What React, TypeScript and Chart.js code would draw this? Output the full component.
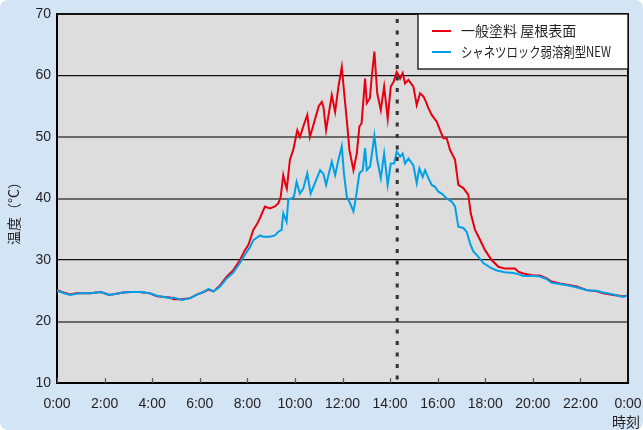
import React, { useEffect, useRef } from "react";
import { Chart, registerables } from "chart.js";

Chart.register(...registerables);

// ---- data ----
const redLabel = "一般塗料 屋根表面";
const blueLabel = "シャネツロック弱溶剤型NEW";

const redHours = [
  0, 0.3, 0.56, 0.8, 1.0, 1.4, 1.82, 2.0, 2.2, 2.5, 2.78, 3.1, 3.48, 3.9, 4.2, 4.5, 4.76, 4.9, 5.25, 5.6,
  5.9, 6.16, 6.37, 6.58, 6.86, 7.13, 7.4, 7.69, 7.9, 8.05, 8.25, 8.4, 8.53, 8.74, 8.95, 9.16, 9.3, 9.4,
  9.51, 9.61, 9.66, 9.79, 9.93, 10.1, 10.21, 10.35, 10.52, 10.63, 10.84, 11.0, 11.13, 11.2, 11.31, 11.55,
  11.69, 11.83, 11.97, 12.06, 12.18, 12.29, 12.46, 12.6, 12.71, 12.8, 12.95, 13.02, 13.15, 13.23, 13.34,
  13.46, 13.61, 13.75, 13.9, 14.03, 14.15, 14.28, 14.42, 14.53, 14.63, 14.77, 14.98, 15.12, 15.26, 15.4,
  15.51, 15.61, 15.75, 15.96, 16.1, 16.24, 16.38, 16.52, 16.73, 16.87, 17.08, 17.29, 17.39, 17.57, 17.78,
  17.99, 18.27, 18.55, 18.83, 19.11, 19.25, 19.39, 19.6, 20.02, 20.3, 20.58, 20.79, 21.14, 21.56, 21.85,
  22.27, 22.69, 22.96, 23.38, 23.8, 24.0,
];
const redTemps = [
  25.1, 24.7, 24.4, 24.6, 24.6, 24.6, 24.8, 24.6, 24.3, 24.5, 24.7, 24.8, 24.8, 24.6, 24.1, 24.0, 23.9, 23.6, 23.6, 23.8,
  24.4, 24.8, 25.2, 24.9, 25.9, 27.3, 28.3, 30.0, 31.6, 32.5, 34.9, 35.8, 36.8, 38.7, 38.4, 38.7, 39.2, 40.2,
  43.8, 42.2, 41.6, 46.3, 47.9, 51.1, 50.0, 51.7, 53.6, 50.0, 52.8, 55.0, 55.7, 54.9, 51.1, 56.8,
  54.1, 58.2, 61.4, 57.6, 52.8, 47.9, 44.6, 47.3, 51.7, 52.2, 59.5, 55.5, 56.3, 59.8, 63.9,
  57.1, 54.4, 58.2, 53.0, 58.2, 59.0, 60.6, 59.5, 60.4, 58.7, 59.3, 58.2, 55.2, 57.1, 56.6,
  55.7, 54.7, 53.6, 52.5, 51.1, 49.8, 49.8, 47.9, 46.3, 42.2, 41.7, 40.6, 37.6, 34.9, 33.3,
  31.6, 30.0, 28.9, 28.6, 28.6, 28.6, 28.1, 27.8, 27.5, 27.5, 27.0, 26.5, 26.2, 25.9, 25.7,
  25.1, 24.9, 24.6, 24.3, 24.1, 24.2,
];

const blueHours = [
  0, 0.3, 0.56, 0.8, 1.0, 1.4, 1.82, 2.0, 2.2, 2.5, 2.78, 3.1, 3.48, 3.9, 4.2, 4.5, 4.76, 4.9, 5.25, 5.6,
  5.9, 6.16, 6.37, 6.58, 6.86, 7.13, 7.4, 7.69, 7.97, 8.1, 8.25, 8.53, 8.67, 8.95, 9.16, 9.3, 9.44,
  9.51, 9.65, 9.72, 9.86, 9.96, 10.07, 10.21, 10.35, 10.52, 10.66, 10.84, 11.06, 11.2, 11.31, 11.55,
  11.69, 11.83, 11.97, 12.06, 12.18, 12.32, 12.46, 12.57, 12.71, 12.85, 12.95, 13.02, 13.16, 13.26, 13.34,
  13.46, 13.61, 13.75, 13.9, 14.03, 14.17, 14.28, 14.42, 14.53, 14.63, 14.77, 14.98, 15.12, 15.23, 15.37,
  15.47, 15.61, 15.75, 15.89, 16.03, 16.17, 16.38, 16.59, 16.73, 16.87, 17.08, 17.22, 17.36, 17.5, 17.71,
  17.92, 18.2, 18.48, 18.83, 19.18, 19.39, 19.6, 20.02, 20.3, 20.58, 20.79, 21.14, 21.56, 21.99, 22.27,
  22.69, 22.96, 23.38, 23.8, 24.0,
];
const blueTemps = [
  25.0, 24.6, 24.3, 24.5, 24.6, 24.6, 24.8, 24.6, 24.3, 24.5, 24.7, 24.8, 24.8, 24.6, 24.2, 24.0, 23.8, 23.9, 23.5, 23.8,
  24.4, 24.8, 25.3, 24.9, 25.7, 27.0, 27.9, 29.5, 31.3, 32.0, 33.2, 34.0, 33.8, 33.8, 34.0, 34.6, 34.9,
  37.6, 36.2, 39.8, 40.0, 40.3, 42.7, 40.8, 41.6, 44.1, 40.8, 42.5, 44.6, 44.0, 42.2, 46.0,
  43.8, 46.3, 48.5, 44.1, 40.3, 39.2, 37.9, 40.3, 44.1, 44.6, 48.2, 44.6, 45.2, 47.9, 50.2,
  46.3, 43.3, 47.3, 42.2, 45.7, 45.7, 47.6, 46.8, 47.3, 45.7, 46.5, 45.4, 42.5, 44.9, 43.5,
  44.6, 43.3, 42.2, 41.9, 41.1, 40.8, 40.0, 39.5, 38.7, 35.4, 35.2, 34.6, 32.7, 31.4, 30.5,
  29.5, 28.8, 28.3, 28.0, 27.9, 27.7, 27.4, 27.4, 27.3, 26.9, 26.3, 26.1, 25.8, 25.4, 25.1,
  25.0, 24.7, 24.4, 24.0, 24.3,
];

const xTickHours = [0, 2, 4, 6, 8, 10, 12, 14, 16, 18, 20, 22, 24];
const xTickLabels = ["0:00", "2:00", "4:00", "6:00", "8:00", "10:00", "12:00", "14:00", "16:00", "18:00", "20:00", "22:00", "0:00"];
const yTickValues = [10, 20, 30, 40, 50, 60, 70];
const markerHour = 14.3;
const xTitle = "時刻";
const yTitle = "温度（°C）";

const RED = "#e60012";
const BLUE = "#00a0e9";
const TEXT = "#231f20";
const LATIN = '"Liberation Sans", Arial, sans-serif';
const CJK = '"Noto Sans CJK JP", "Noto Sans", sans-serif';

const toPoints = (hs: number[], vs: number[]) => hs.map((h, i) => ({ x: h, y: vs[i] }));

const decorPlugin = {
  id: "decor",
  beforeDraw(chart: any) {
    const { ctx, chartArea: a } = chart;
    ctx.save();
    ctx.fillStyle = "#dcdddc";
    ctx.fillRect(a.left, a.top, a.right - a.left, a.bottom - a.top);
    ctx.restore();
  },
  afterDatasetsDraw(chart: any) {
    const { ctx, chartArea: a, scales } = chart;
    const xs = scales.x;
    ctx.save();
    // dotted marker line
    const mx = xs.getPixelForValue(markerHour);
    ctx.strokeStyle = "#333";
    ctx.lineWidth = 3;
    ctx.setLineDash([4, 7.5]);
    ctx.beginPath();
    ctx.moveTo(mx, a.top + 5);
    ctx.lineTo(mx, a.bottom);
    ctx.stroke();
    ctx.setLineDash([]);
    // inner tick marks on x axis
    ctx.strokeStyle = "#555";
    ctx.lineWidth = 1.2;
    xTickHours.forEach((h) => {
      const px = Math.round(xs.getPixelForValue(h)) + 0.5;
      ctx.beginPath();
      ctx.moveTo(px, a.bottom);
      ctx.lineTo(px, a.bottom - 5);
      ctx.stroke();
    });
    // top & right frame
    ctx.strokeStyle = "#111";
    ctx.lineWidth = 2;
    ctx.beginPath();
    ctx.moveTo(a.left, a.top);
    ctx.lineTo(a.right, a.top);
    ctx.lineTo(a.right, a.bottom);
    ctx.stroke();

    // legend box
    const boxW = 210;
    const boxH = 55;
    const bx = a.right - boxW;
    const by = a.top;
    ctx.fillStyle = "#ffffff";
    ctx.fillRect(bx, by, boxW, boxH);
    ctx.strokeStyle = "#111";
    ctx.lineWidth = 1.3;
    ctx.strokeRect(bx, by, boxW, boxH);
    ctx.font = `14px ${CJK}`;
    ctx.textBaseline = "middle";
    ctx.textAlign = "left";
    chart.data.datasets.forEach((ds: any, i: number) => {
      const ry = by + 17 + i * 21;
      ctx.strokeStyle = ds.borderColor;
      ctx.lineWidth = 2;
      ctx.beginPath();
      ctx.moveTo(bx + 14, ry);
      ctx.lineTo(bx + 33, ry);
      ctx.stroke();
      ctx.fillStyle = TEXT;
      ctx.fillText(ds.label, bx + 43, ry, boxW - 43 - 17);
    });

    // axis titles
    ctx.fillStyle = TEXT;
    ctx.font = `14px ${CJK}`;
    ctx.textAlign = "right";
    ctx.textBaseline = "middle";
    ctx.fillText(xTitle, chart.width - 3, 422);
    ctx.translate(14, 210);
    ctx.rotate(-Math.PI / 2);
    ctx.textAlign = "center";
    ctx.fillText(yTitle, 0, 0);
    ctx.restore();
  },
};

export default function App() {
  const ref = useRef<HTMLCanvasElement | null>(null);

  useEffect(() => {
    if (!ref.current) return;
    const chart = new Chart(ref.current, {
      type: "line",
      data: {
        datasets: [
          {
            label: redLabel,
            data: toPoints(redHours, redTemps),
            borderColor: RED,
            backgroundColor: RED,
            borderWidth: 2,
            pointRadius: 0,
            tension: 0,
            order: 1,
          },
          {
            label: blueLabel,
            data: toPoints(blueHours, blueTemps),
            borderColor: BLUE,
            backgroundColor: BLUE,
            borderWidth: 2,
            pointRadius: 0,
            tension: 0,
            order: 0,
          },
        ],
      },
      options: {
        responsive: false,
        animation: false,
        events: [],
        layout: { padding: { top: 14, right: 15, left: 0, bottom: 0 } },
        plugins: {
          legend: { display: false },
          tooltip: { enabled: false },
        },
        scales: {
          x: {
            type: "linear",
            min: 0,
            max: 24,
            afterFit: (s: any) => {
              s.height = 47;
              s.paddingLeft = 0;
              s.paddingRight = 0;
            },
            afterBuildTicks: (s: any) => {
              s.ticks = xTickHours.map((v) => ({ value: v }));
            },
            ticks: {
              autoSkip: false,
              maxRotation: 0,
              padding: 13,
              color: TEXT,
              font: { family: LATIN, size: 14 },
              callback: (v: any) => {
                const i = xTickHours.indexOf(Number(v));
                return i >= 0 ? xTickLabels[i] : "";
              },
            },
            grid: { drawOnChartArea: false, drawTicks: false },
            border: { display: true, color: "#000", width: 2 },
          },
          y: {
            min: 10,
            max: 70,
            afterFit: (s: any) => {
              s.width = 57;
              s.paddingTop = 0;
              s.paddingBottom = 0;
            },
            afterBuildTicks: (s: any) => {
              s.ticks = yTickValues.map((v) => ({ value: v }));
            },
            ticks: {
              padding: 6,
              color: TEXT,
              font: { family: LATIN, size: 14 },
            },
            grid: {
              drawTicks: false,
              color: (c: any) => {
                const v = c.tick && c.tick.value;
                return v === 60 || v === 30 || v === 70 || v === 10 ? "#111" : "#6a6a6a";
              },
              lineWidth: (c: any) => {
                const v = c.tick && c.tick.value;
                return v === 60 || v === 30 ? 1.2 : 2;
              },
            },
            border: { display: true, color: "#000", width: 2 },
          },
        },
      },
      plugins: [decorPlugin],
    } as any);
    return () => chart.destroy();
  }, []);

  return (
    <div
      style={{
        position: "fixed",
        left: 0,
        top: 0,
        width: 643,
        height: 430,
        background: "#d3e4f5",
        borderRadius: 8,
        overflow: "hidden",
      }}
    >
      <canvas ref={ref} width={643} height={430} style={{ display: "block" }} />
    </div>
  );
}
